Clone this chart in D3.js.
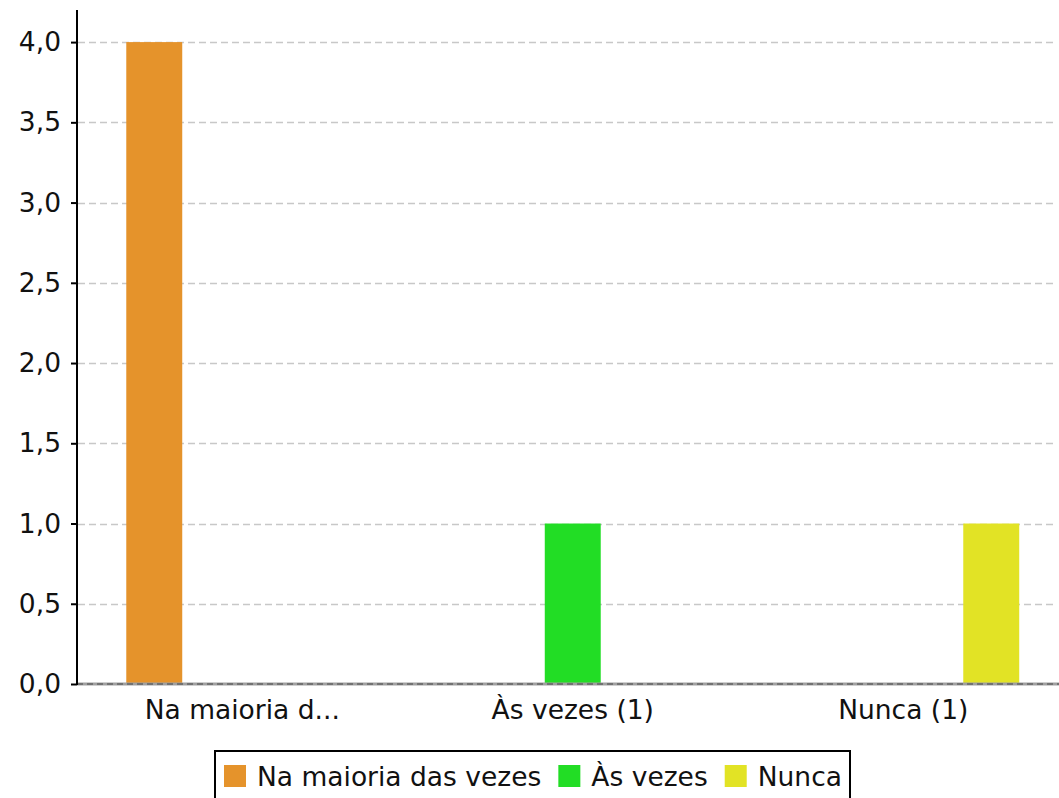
<!DOCTYPE html>
<html>
<head>
<meta charset="utf-8">
<script src="https://cdn.jsdelivr.net/npm/d3@7"></script>
<style>
  html, body { margin: 0; padding: 0; background: #fff; }
  svg { display: block; font-family: "DejaVu Sans", sans-serif; }
</style>
</head>
<body>
<svg id="chart" width="1059" height="798"></svg>
<script>
// Answer counts per category; each category holds one non-zero series.
const categories = ["Na maioria d...", "Às vezes (1)", "Nunca (1)"];
const seriesNames = ["Na maioria das vezes", "Às vezes", "Nunca"];
const seriesValues = [
  [4, 0, 0],   // Na maioria das vezes
  [0, 1, 0],   // Às vezes
  [0, 0, 1]    // Nunca
];
const seriesColors = ["#e5932b", "#22dd25", "#e2e325"];
const yTicks = [0, 0.5, 1, 1.5, 2, 2.5, 3, 3.5, 4];

const svg = d3.select("#chart");
const width = 1059;
const plotLeft = 77, plotRight = 1068.5, plotTop = 10, plotBottom = 684;
const fontSize = "26.5px";

const y = d3.scaleLinear().domain([0, 4.2]).range([plotBottom, plotTop]);
const x = d3.scaleBand().domain(categories).range([plotLeft, plotRight]).padding(0);
const xs = d3.scaleBand().domain(seriesNames).range([0, x.bandwidth()])
  .paddingInner(0.364).paddingOuter(0.56);

const fmt = v => d3.format(".1f")(v).replace(".", ",");

// horizontal dashed grid
svg.append("g").selectAll("line").data(yTicks.filter(t => t > 0)).join("line")
  .attr("x1", plotLeft + 1).attr("x2", 1053)
  .attr("y1", d => Math.round(y(d)) + 0.5).attr("y2", d => Math.round(y(d)) + 0.5)
  .attr("stroke", "#c8c8c8").attr("stroke-width", 1.3)
  .attr("stroke-dasharray", "7,4");

// bars
const rows = [];
categories.forEach((c, ci) => seriesNames.forEach((s, si) => {
  const v = seriesValues[si][ci];
  if (v > 0) rows.push({ c, s, v, color: seriesColors[si] });
}));
svg.append("g").selectAll("rect").data(rows).join("rect")
  .attr("x", d => x(d.c) + xs(d.s))
  .attr("width", xs.bandwidth())
  .attr("y", d => y(d.v))
  .attr("height", d => y(0) - y(d.v))
  .attr("fill", d => d.color);

// zero baseline
svg.append("line").attr("x1", plotLeft).attr("x2", width)
  .attr("y1", y(0)).attr("y2", y(0))
  .attr("stroke", "#a0a0a0").attr("stroke-width", 3);
svg.append("line").attr("x1", plotLeft).attr("x2", width)
  .attr("y1", y(0)).attr("y2", y(0))
  .attr("stroke", "#444").attr("stroke-width", 1.2)
  .attr("stroke-dasharray", "6,4");

// y axis
const yAxis = d3.axisLeft(y).tickValues(yTicks).tickFormat(fmt).tickSize(6).tickPadding(10);
const gy = svg.append("g").attr("transform", `translate(${plotLeft},0)`).call(yAxis);
gy.select(".domain").remove();
gy.selectAll(".tick line").attr("stroke", "#000").attr("stroke-width", 2);
gy.selectAll(".tick text").attr("fill", "#111").style("font-size", fontSize)
  .style("font-family", "DejaVu Sans, sans-serif");
svg.append("line").attr("x1", plotLeft).attr("x2", plotLeft).attr("y1", plotTop).attr("y2", plotBottom + 1)
  .attr("stroke", "#000").attr("stroke-width", 2);

// x axis labels
const xAxis = d3.axisBottom(x).tickSize(0).tickPadding(16);
const gx = svg.append("g").attr("transform", `translate(0,${plotBottom})`).call(xAxis);
gx.select(".domain").remove();
gx.selectAll(".tick text").attr("fill", "#111").style("font-size", fontSize)
  .style("font-family", "DejaVu Sans, sans-serif");

// legend
const legend = svg.append("g");
legend.append("rect").attr("x", 215).attr("y", 751).attr("width", 635).attr("height", 60)
  .attr("fill", "#fff").attr("stroke", "#000").attr("stroke-width", 2);
let lx = 224;
seriesNames.forEach((name, i) => {
  legend.append("rect").attr("x", lx).attr("y", 765).attr("width", 22).attr("height", 22)
    .attr("fill", seriesColors[i]);
  const t = legend.append("text").attr("x", lx + 33).attr("y", 786)
    .attr("fill", "#111").style("font-size", fontSize).text(name);
  lx += 33 + t.node().getComputedTextLength() + 17;
});
</script>
</body>
</html>
